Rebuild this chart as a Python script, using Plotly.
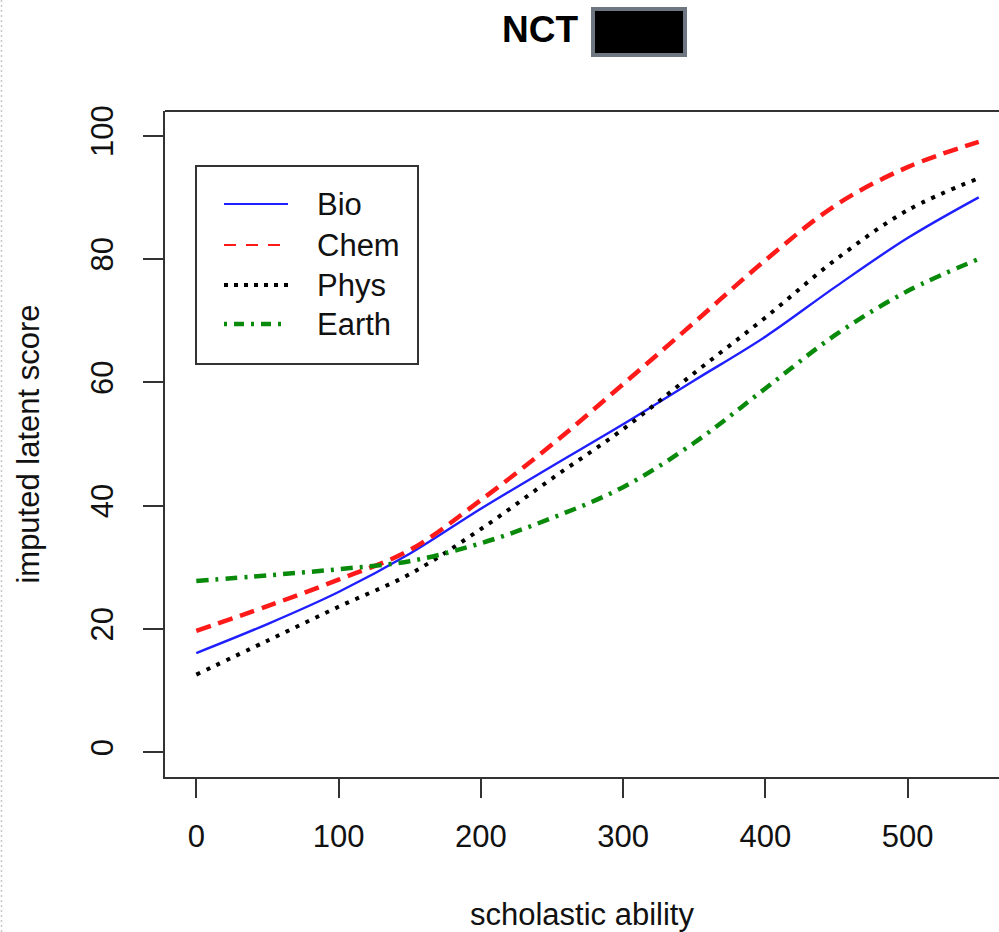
import plotly.graph_objects as go

# Imputed latent score by scholastic ability, one smoothed curve per subject
ability = [0, 50, 100, 150, 200, 250, 300, 350, 400, 450, 500, 550]
bio = [16.1, 20.8, 26.0, 32.2, 39.5, 46.4, 53.2, 60.3, 67.4, 75.6, 83.4, 90.0]
chem = [19.7, 23.7, 28.0, 32.8, 40.9, 49.9, 59.7, 69.7, 79.8, 88.8, 94.9, 99.0]
phys = [12.6, 18.1, 23.6, 28.9, 36.2, 44.4, 52.4, 61.5, 70.5, 80.0, 87.9, 93.1]
earth = [27.8, 28.7, 29.7, 31.0, 33.9, 38.0, 43.0, 50.2, 59.0, 67.8, 74.8, 80.0]

subjects = ["Bio", "Chem", "Phys", "Earth"]
x_ticks = [0, 100, 200, 300, 400, 500]
y_ticks = [0, 20, 40, 60, 80, 100]

W, H = 999, 932
L, R, T, B = 165, 0, 111, 155
PW, PH = W - L - R, H - T - B
FONT = "Liberation Sans, Arial, sans-serif"


def px(x):
    return (x - L) / PW


def py(y):
    return (H - B - y) / PH


styles = {
    "Bio": dict(color="#1f1fff", width=2.4, dash="solid"),
    "Chem": dict(color="#ff1a1a", width=4.5, dash="15px,8px"),
    "Phys": dict(color="#000000", width=4, dash="4px,7px"),
    "Earth": dict(color="#0a8a0a", width=4.5, dash="12px,7px,3px,7px"),
}
series = {"Bio": bio, "Chem": chem, "Phys": phys, "Earth": earth}

fig = go.Figure()
for name in subjects:
    fig.add_trace(go.Scatter(
        x=ability, y=series[name], mode="lines", name=name,
        line=dict(shape="spline", smoothing=1.0, **styles[name]),
        showlegend=False, hoverinfo="skip",
    ))

shapes = []
annotations = []

# frame: top edge (left and bottom come from the axis lines)
shapes.append(dict(type="line", xref="paper", yref="paper", x0=0, x1=1, y0=1, y1=1,
                   line=dict(color="#333333", width=2)))

# legend box with line samples
shapes.append(dict(type="rect", xref="paper", yref="paper",
                   x0=px(196), x1=px(418), y0=py(364), y1=py(166),
                   line=dict(color="#333333", width=2), fillcolor="white", layer="above"))
legend_rows = {"Bio": 204, "Chem": 245, "Phys": 285, "Earth": 324}
legend_lines = {
    "Bio": dict(color="#1f1fff", width=2, dash="solid"),
    "Chem": dict(color="#ff1a1a", width=2, dash="12px,10px"),
    "Phys": dict(color="#000000", width=4, dash="4px,6px"),
    "Earth": dict(color="#0a8a0a", width=4.5, dash="3px,7px,10px,7px"),
}
for name in subjects:
    yy = legend_rows[name]
    shapes.append(dict(type="line", xref="paper", yref="paper",
                       x0=px(224), x1=px(288), y0=py(yy), y1=py(yy),
                       line=legend_lines[name]))
    annotations.append(dict(text=name, xref="paper", yref="paper", x=px(315), y=py(yy),
                            xanchor="left", yanchor="middle", showarrow=False,
                            font=dict(family=FONT, size=31, color="#111111")))

# title: identifier prefix followed by a masked block
annotations.append(dict(text="<b>NCT</b>", xref="paper", yref="paper", x=px(580), y=py(30),
                        xanchor="right", yanchor="middle", showarrow=False,
                        font=dict(family=FONT, size=37, color="#000000")))
shapes.append(dict(type="rect", xref="paper", yref="paper",
                   x0=px(593), x1=px(685), y0=py(55), y1=py(9),
                   line=dict(color="#6e7781", width=4), fillcolor="#000000"))

# dotted page edge on the left
shapes.append(dict(type="line", xref="paper", yref="paper",
                   x0=px(1.5), x1=px(1.5), y0=py(H), y1=py(0),
                   line=dict(color="#c8c8c8", width=1.5, dash="2px,3px")))

fig.update_layout(
    width=W, height=H,
    margin=dict(l=L, r=R, t=T, b=B, pad=0),
    paper_bgcolor="white", plot_bgcolor="white",
    shapes=shapes, annotations=annotations,
    font=dict(family=FONT, color="#111111"),
    showlegend=False,
)
fig.update_xaxes(
    range=[-22, -22 + PW / (845 / 594)],
    tickvals=x_ticks, ticktext=[str(v) for v in x_ticks],
    ticks="outside", ticklen=19, tickwidth=2, tickcolor="#333333",
    showline=True, linecolor="#333333", linewidth=2, mirror=False,
    showgrid=False, zeroline=False,
    tickfont=dict(family=FONT, size=31, color="#111111"),
    ticklabelstandoff=12,
    title=dict(text="scholastic ability", font=dict(family=FONT, size=31, color="#111111"),
               standoff=50),
)
fig.update_yaxes(
    range=[-4, 104],
    tickvals=y_ticks, ticktext=[str(v) for v in y_ticks],
    ticks="outside", ticklen=20, tickwidth=2, tickcolor="#333333",
    showline=True, linecolor="#333333", linewidth=2, mirror=False,
    showgrid=False, zeroline=False, tickangle=-90,
    tickfont=dict(family=FONT, size=31, color="#111111"),
    ticklabelstandoff=18,
    title=dict(text="imputed latent score", font=dict(family=FONT, size=31, color="#111111"),
               standoff=36),
)

fig.write_html("out.html")
